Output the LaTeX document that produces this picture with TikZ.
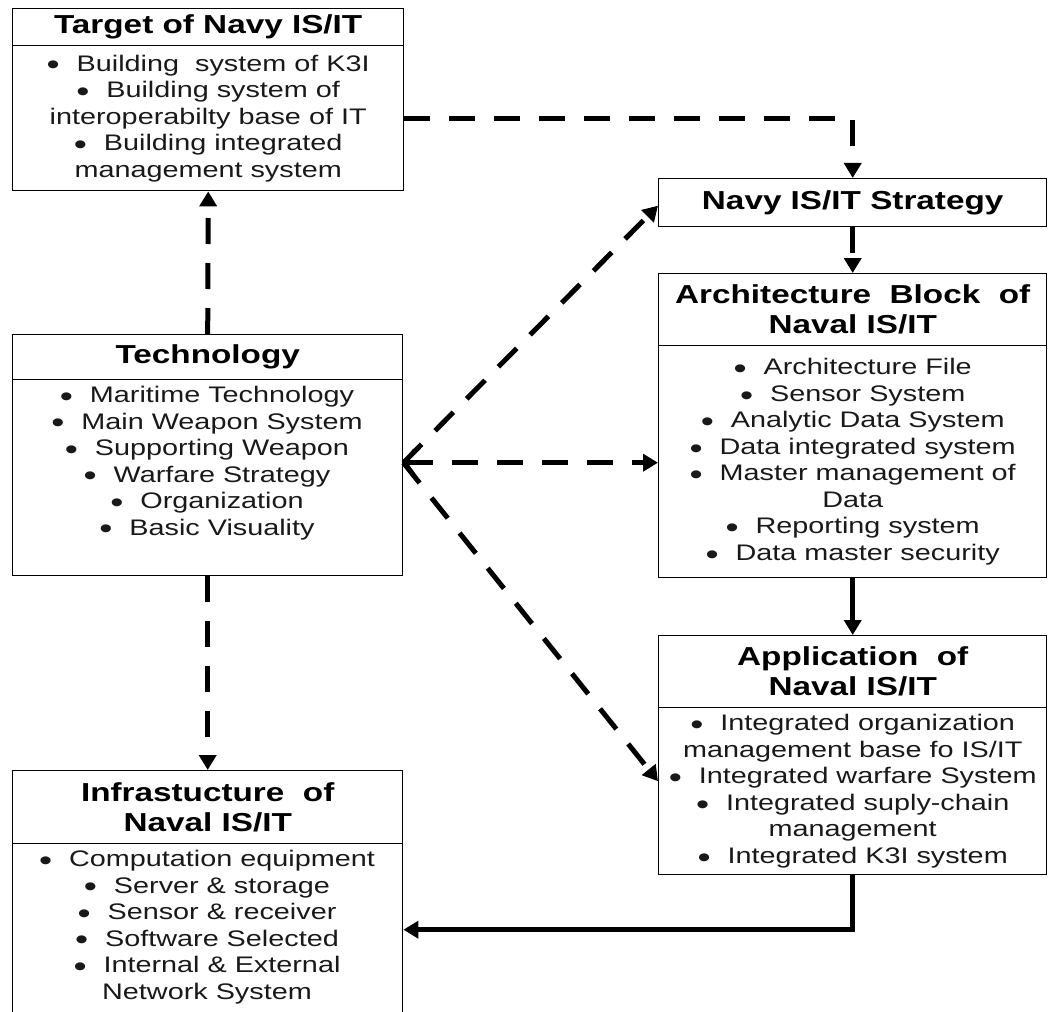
\documentclass[tikz,border=0pt]{standalone}
\usepackage{fontspec}
\setmainfont[FakeStretch=1.28]{Liberation Sans}
\usetikzlibrary{arrows.meta}
\newcommand{\navbul}{\raisebox{-0.17em}{\scalebox{1.3}{\textbullet}}\hspace{0.75em}}
\begin{document}
\begin{tikzpicture}[x=1pt,y=-1pt,
  part/.style={draw, line width=1.4pt, anchor=north west, inner sep=0pt},
  ttl/.style={font=\fontsize{26}{30}\selectfont\bfseries, align=center, inner sep=0pt},
  lst/.style={font=\fontsize{22.5}{26.5}\selectfont, align=center, inner sep=0pt, text=black!90},
  tip/.style={-{Triangle[length=15pt,width=17pt]}},
  dlink/.style={line width=5pt, dash pattern=on 26pt off 19pt, tip},
  slink/.style={line width=5pt, tip}]
\useasboundingbox (0,0) rectangle (1048,1011);

% ---- box frames (title part + list part) ----
\node[part, minimum width=391pt, minimum height=37pt]  (tgtT) at (12,8) {};
\node[part, minimum width=391pt, minimum height=145pt] (tgtB) at (12,45) {};

\node[part, minimum width=388pt, minimum height=48pt]  (strat) at (658,178) {};

\node[part, minimum width=388pt, minimum height=72pt]  (archT) at (658,273) {};
\node[part, minimum width=388pt, minimum height=232pt] (archB) at (658,345) {};

\node[part, minimum width=388pt, minimum height=72pt]  (appT) at (658,635) {};
\node[part, minimum width=388pt, minimum height=167pt] (appB) at (658,707) {};

\node[part, minimum width=390pt, minimum height=45pt]  (tecT) at (12,334) {};
\node[part, minimum width=390pt, minimum height=196pt] (tecB) at (12,379) {};

\node[part, minimum width=390pt, minimum height=73pt]  (infT) at (12,770) {};
\node[part, minimum width=390pt, minimum height=172pt] (infB) at (12,843) {};

% ---- titles ----
\node[ttl] (tgtTx) at (tgtT.center) {Target of Navy IS/IT};
\node[ttl] (stratTx) at (strat.center) {Navy IS/IT Strategy};
\node[ttl] (archTx) at (archT.center) {Architecture\ \ Block\ \ of\\Naval IS/IT};
\node[ttl] (appTx) at (appT.center) {Application\ \ of\\Naval IS/IT};
\node[ttl] (tecTx) at (tecT.center) {Technology};
\node[ttl] (infTx) at (infT.center) {Infrastucture\ \ of\\Naval IS/IT};

% ---- lists ----
\node[lst] (tgtBx) at (tgtB.center) {\navbul Building\ \ system of K3I\\
  \navbul Building system of\\ interoperabilty base of IT\\
  \navbul Building integrated\\ management system};
\node[lst] (archBx) at (archB.center) {\navbul Architecture File\\
  \navbul Sensor System\\
  \navbul Analytic Data System\\
  \navbul Data integrated system\\
  \navbul Master management of\\ Data\\
  \navbul Reporting system\\
  \navbul Data master security};
\node[lst] (appBx) at (appB.center) {\navbul Integrated organization\\
  management base fo IS/IT\\
  \navbul Integrated warfare System\\
  \navbul Integrated suply-chain\\ management\\
  \navbul Integrated K3I system};
\node[lst] (tecBx) at (207,463) {\navbul Maritime Technology\\
  \navbul Main Weapon System\\
  \navbul Supporting Weapon\\
  \navbul Warfare Strategy\\
  \navbul Organization\\
  \navbul Basic Visuality};
\node[lst] (infBx) at (207,927) {\navbul Computation equipment\\
  \navbul Server \& storage\\
  \navbul Sensor \& receiver\\
  \navbul Software Selected\\
  \navbul Internal \& External\\ Network System};

% ---- connectors ----
\coordinate (hub) at ([yshift=15pt]tecB.east);

\draw[dlink] (tgtB.east) -| (strat.north);
\draw[dlink] (strat.south) -- (archT.north);
\draw[slink] (archB.south) -- (appT.north);
\draw[slink] (appB.south) |- (infB.east);
\draw[dlink] (tecT.north) -- (tgtB.south);
\draw[dlink] (tecB.south) -- (infT.north);

\draw[dlink] (hub) -- ([yshift=-3pt]strat.west);
\draw[dlink, {Straight Barb[length=9pt,width=26pt,line width=3.5pt]}-{Triangle[length=15pt,width=17pt]}]
  (hub) -- (hub -| archB.west);
\draw[dlink] (hub) -- ([yshift=10pt]appB.west);
\end{tikzpicture}
\end{document}
